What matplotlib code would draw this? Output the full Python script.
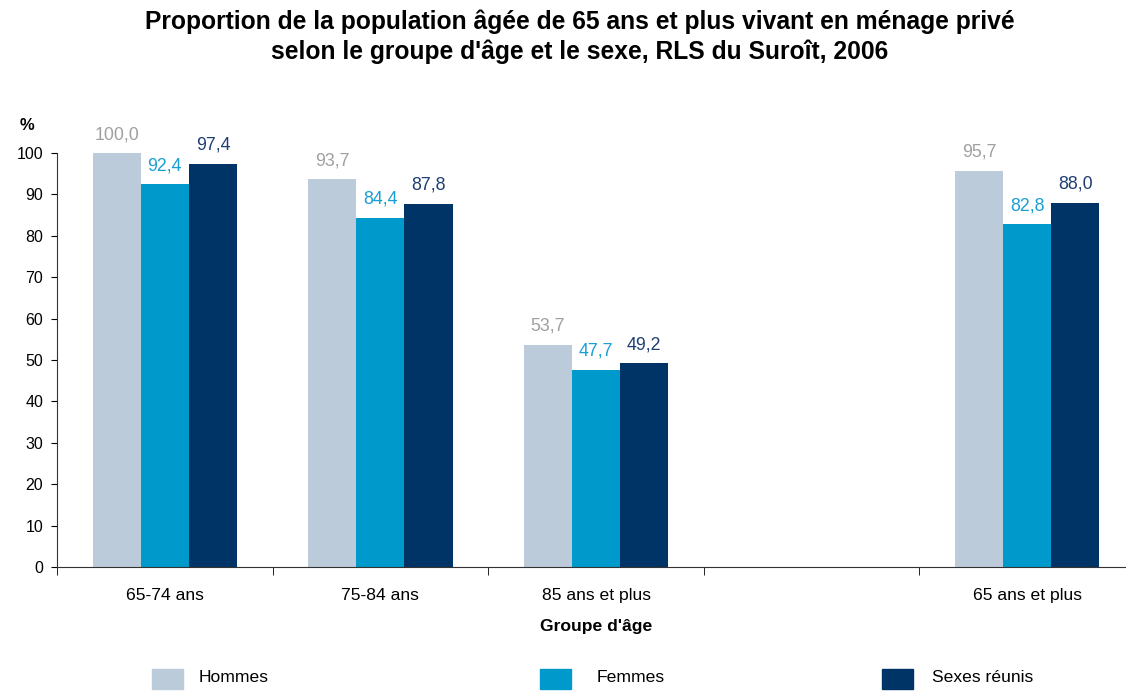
import matplotlib.pyplot as plt
import matplotlib.patches as mpatches
import numpy as np

plt.rcParams['font.family'] = ['Liberation Sans', 'DejaVu Sans']

categories = ["65-74 ans", "75-84 ans", "85 ans et plus", "", "65 ans et plus"]
hommes = [100.0, 93.7, 53.7, None, 95.7]
femmes = [92.4, 84.4, 47.7, None, 82.8]
sexes = [97.4, 87.8, 49.2, None, 88.0]
series_names = ["Hommes", "Femmes", "Sexes réunis"]

bar_colors = ["#bccbd9", "#0099cc", "#003366"]
label_colors = ["#a0a0a0", "#1a9fd4", "#1f3f73"]

fig = plt.figure(figsize=(11.26, 6.92), dpi=100)
ax = fig.add_axes([57 / 1126, 125 / 692, 1078 / 1126, 414 / 692])

x = np.arange(len(categories))
w = 0.223
for i, (vals, col, lcol) in enumerate(zip([hommes, femmes, sexes], bar_colors, label_colors)):
    for xi, v in zip(x, vals):
        if v is None:
            continue
        xp = xi + (i - 1) * w
        ax.bar(xp, v, width=w, color=col, zorder=2)
        ax.text(xp, v + 2.4, f"{v:.1f}".replace(".", ","), ha='center', va='bottom',
                fontsize=12.8, color=lcol)

ax.set_xlim(-0.5, len(categories) - 0.5)
ax.set_ylim(0, 100)
ax.set_yticks(range(0, 101, 10))
ax.tick_params(axis='y', labelsize=11.5, length=4, direction='out', pad=6)
ax.set_xticks(x)
ax.set_xticklabels(categories, fontsize=12.6)
ax.set_xticks(np.arange(-0.5, len(categories)), minor=True)
ax.tick_params(axis='x', which='major', length=0, pad=15)
ax.tick_params(axis='x', which='minor', length=6, direction='out')
for s in ['top', 'right']:
    ax.spines[s].set_visible(False)
ax.spines['left'].set_color('#333333')
ax.spines['bottom'].set_color('#333333')

fig.text(27 / 1126, 1 - 125 / 692, "%", fontsize=12, fontweight='bold', ha='center', va='center')
fig.text(596 / 1126, 1 - 627 / 692, "Groupe d'âge", fontsize=12.6, fontweight='bold', ha='center', va='center')
fig.text(580 / 1126, 1 - 37 / 692,
         "Proportion de la population âgée de 65 ans et plus vivant en ménage privé\n"
         "selon le groupe d'âge et le sexe, RLS du Suroît, 2006",
         fontsize=17.7, fontweight='bold', ha='center', va='center', linespacing=1.28)

# legend
leg_box_x = [152, 540, 882]
leg_text_x = [199, 597, 932]
for bx, tx, name, col in zip(leg_box_x, leg_text_x, series_names, bar_colors):
    fig.add_artist(mpatches.Rectangle((bx / 1126, 1 - 689 / 692), 31 / 1126, 20 / 692,
                                      transform=fig.transFigure, color=col))
    fig.text(tx / 1126, 1 - 678 / 692, name, fontsize=12.6, ha='left', va='center')

fig.savefig("out.png", dpi=100)
